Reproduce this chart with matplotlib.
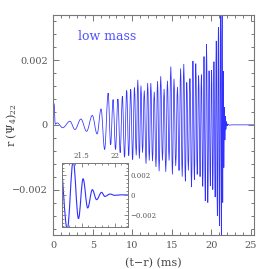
import matplotlib
matplotlib.use("Agg")
import matplotlib.pyplot as plt
from matplotlib.ticker import MultipleLocator, FixedLocator
from matplotlib.path import Path
from matplotlib.patches import PathPatch
import numpy as np

# extrema of r*Psi4_22 (time in ms, value in units of 1e-3)
t_ms = [
    0.10, 0.25, 0.50, 1.19, 2.11, 2.75, 3.50, 4.22, 4.94, 5.55, 6.05, 6.50,
    6.95, 7.26, 7.57, 7.88, 8.18, 8.47, 8.75, 9.02, 9.29, 9.55, 9.80, 10.04,
    10.28, 10.50, 10.70, 10.90, 11.10, 11.30, 11.52, 11.74, 11.95, 12.15, 12.35, 12.56,
    12.78, 13.00, 13.20, 13.40, 13.60, 13.82, 14.03, 14.24, 14.45, 14.66, 14.88, 15.08,
    15.28, 15.50, 15.72, 15.92, 16.12, 16.32, 16.52, 16.72, 16.90, 17.10, 17.30, 17.50,
    17.68, 17.86, 18.04, 18.22, 18.40, 18.58, 18.75, 18.92, 19.08, 19.24, 19.40, 19.56,
    19.72, 19.88, 20.04, 20.19, 20.34, 20.49, 20.63, 20.77, 20.90, 21.03, 21.17, 21.28,
    21.37, 21.45, 21.52, 21.59, 21.66, 21.725, 21.80, 21.85, 21.93, 22.00, 22.10, 22.30,
    22.60, 25.40,
]
psi_e3 = [
    0.66, 0.02, 0.06, -0.09, 0.11, -0.145, 0.18, -0.20, 0.29, -0.28, 0.49, -0.76,
    0.98, -0.62, 0.78, -0.76, 0.80, -0.86, 0.88, -1.00, 1.06, -0.95, 1.10, -1.07,
    1.15, -0.94, 1.39, -1.04, 1.21, -0.86, 1.06, -1.20, 1.29, -1.10, 1.29, -1.12,
    1.02, -1.30, 1.35, -1.43, 1.50, -1.10, 1.11, -1.45, 1.36, -1.10, 1.80, -1.53,
    1.42, -1.27, 1.17, -1.41, 1.74, -1.60, 1.88, -1.74, 1.31, -1.41, 1.43, -1.92,
    1.97, -1.69, 1.89, -1.53, 1.52, -1.60, 1.55, -1.90, 2.11, -2.35, 2.49, -2.40,
    1.67, -1.89, 1.69, -2.00, 1.95, -2.23, 2.59, -2.81, 3.02, -3.12, 3.45, -3.50,
    3.50, -2.40, 1.66, -1.32, 0.54, -0.47, 0.27, -0.14, 0.10, -0.03, 0.02, -0.01,
    0.0, 0.0,
]

x_ticks = [0, 5, 10, 15, 20, 25]
y_ticks = [-0.002, 0, 0.002]
y_labels = ["\u22120.002", "0", "0.002"]
inset_x_ticks = [21.5, 22]
inset_x_labels = ["21.5", "22"]

t = np.array(t_ms)
psi = np.array(psi_e3) * 1e-3

plt.rcParams['font.family'] = ['DejaVu Serif']
plt.rcParams['mathtext.fontset'] = 'dejavuserif'

line_col = '#3030ff'
frame_col = '#777777'
text_col = '#555555'


def wave_path(x, y):
    # smooth curve through the extrema: cubic Bezier pieces with flat tangents at each extremum
    verts = [(x[0], y[0])]
    codes = [Path.MOVETO]
    for i in range(1, len(x)):
        dx = x[i] - x[i - 1]
        verts += [(x[i - 1] + 0.36 * dx, y[i - 1]), (x[i] - 0.36 * dx, y[i]), (x[i], y[i])]
        codes += [Path.CURVE4] * 3
    return Path(verts, codes)


fig = plt.figure(figsize=(2.69, 2.69), dpi=100)
ax = fig.add_axes([0.198, 0.1264, 0.746, 0.8190])
ax.add_patch(PathPatch(wave_path(t, psi), fill=False, edgecolor=line_col, lw=0.55))
ax.set_xlim(0, 25.4)
ax.set_ylim(-0.0034, 0.0034)

ax.xaxis.set_major_locator(FixedLocator(x_ticks))
ax.xaxis.set_minor_locator(MultipleLocator(1))
ax.set_yticks(y_ticks)
ax.set_yticklabels(y_labels)
ax.yaxis.set_minor_locator(MultipleLocator(0.0004))
ax.tick_params(which='both', direction='in', top=True, right=True,
               color=frame_col, width=0.7, labelsize=7, labelcolor=text_col)
ax.tick_params(which='major', length=4.5, pad=4)
ax.tick_params(which='minor', length=2.3)
for s in ax.spines.values():
    s.set_color(frame_col)
    s.set_linewidth(0.8)

ax.set_xlabel('(t\u2212r) (ms)', fontsize=8, color='#444444')
ax.xaxis.set_label_coords(0.5, -0.105)
ax.set_ylabel(r'r $(\Psi_4)_{22}$', fontsize=8, color='#444444')
ax.yaxis.set_label_coords(-0.17, 0.5)

ax.text(3.1, 0.00272, 'low mass', color='#5050ff', fontsize=9, va='center')

# inset: zoom on the merger / ringdown
ins = fig.add_axes([0.2305, 0.156, 0.245, 0.238])
ins.add_patch(PathPatch(wave_path(t, psi), fill=False, edgecolor=line_col, lw=0.8))
ins.set_xlim(21.2, 22.2)
ins.set_ylim(-0.00326, 0.00326)
ins.set_xticks(inset_x_ticks)
ins.set_xticklabels(inset_x_labels)
ins.xaxis.set_minor_locator(MultipleLocator(0.1))
ins.set_yticks(y_ticks)
ins.set_yticklabels(y_labels)
ins.yaxis.set_minor_locator(MultipleLocator(0.0004))
ins.tick_params(which='both', direction='in', top=True, right=True, bottom=True, left=True,
                labeltop=True, labelbottom=False, labelright=True, labelleft=False,
                color=frame_col, width=0.6, labelsize=5, labelcolor=text_col, pad=2)
ins.tick_params(which='major', length=3)
ins.tick_params(which='minor', length=1.6)
for s in ins.spines.values():
    s.set_color(frame_col)
    s.set_linewidth(0.7)

fig.savefig('out.png', dpi=100)
